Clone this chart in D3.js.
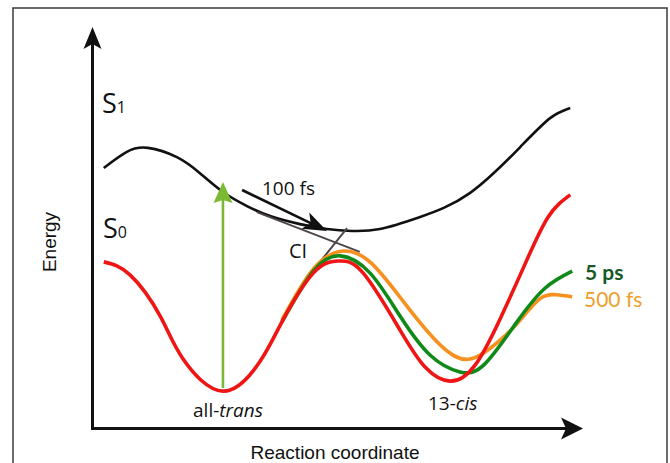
<!DOCTYPE html>
<html>
<head>
<meta charset="utf-8">
<script src="https://cdn.jsdelivr.net/npm/d3@7"></script>
<style>
  html, body { margin: 0; padding: 0; background: #fff; }
  svg { display: block; }
</style>
</head>
<body>
<svg id="chart" width="670" height="463"></svg>
<script>
// Potential energy surfaces along the isomerisation coordinate (arbitrary units 0–100)
const s1X    = [2.3, 7.0, 11.3, 17.2, 21.9, 26.6, 31.5, 36.2, 42.3, 47.8, 52.9, 58.6, 66.8, 77.0, 87.2, 93.3, 97.4];
const s1Y    = [64.9, 68.9, 69.9, 67.6, 63.6, 58.9, 55.4, 52.9, 50.9, 49.7, 49.2, 49.7, 52.7, 58.7, 70.1, 77.3, 79.8];

const s0X    = [2.3, 7.7, 13.8, 18.3, 26.6, 34.2, 38.6, 45.0, 50.1, 55.2, 62.7, 67.8, 72.9, 78.0, 83.1, 88.2, 92.9, 97.4];
const s0Y    = [41.5, 38.2, 28.0, 17.6, 9.3, 16.8, 26.5, 38.7, 41.7, 38.7, 24.5, 15.3, 11.8, 15.8, 27.3, 41.0, 52.7, 58.2];

const ps5X   = [38.6, 45.0, 50.5, 56.6, 62.7, 68.8, 74.9, 80.0, 86.5, 92.3, 97.8];
const ps5Y   = [26.5, 39.2, 43.0, 38.7, 28.0, 18.3, 14.1, 16.1, 26.5, 35.0, 39.2];

const fs500X = [38.6, 45.0, 51.1, 57.0, 63.9, 70.9, 77.0, 83.1, 87.2, 91.2, 94.5, 97.8];
const fs500Y = [27.0, 39.7, 44.2, 41.0, 30.8, 20.8, 17.3, 22.0, 27.0, 32.3, 33.3, 32.8];

// Excitation, relaxation path and conical-intersection guide lines
const excitation = [[26.6, 10.1], [26.6, 61.4]];
const relaxation = [[30.5, 59.4], [47.8, 49.2]];
const ciLines    = [[[33.5, 53.9], [54.5, 44.0]], [[45.4, 40.0], [51.9, 49.9]]];

const svg = d3.select("#chart");

const x = d3.scaleLinear().domain([0, 100]).range([92.5, 583]);
const y = d3.scaleLinear().domain([0, 100]).range([428.5, 27]);

const zip = (xs, ys) => xs.map((v, i) => [v, ys[i]]);
const line = d3.line().x(d => x(d[0])).y(d => y(d[1])).curve(d3.curveNatural);
const straight = d3.line().x(d => x(d[0])).y(d => y(d[1]));

// frame
svg.append("rect")
  .attr("x", 13).attr("y", 8).attr("width", 654).attr("height", 470)
  .attr("fill", "none").attr("stroke", "#3a3a3a").attr("stroke-width", 1.5);

// arrowhead with a notched back, pointing from `from` towards `tip`
function arrowHead(tip, from, len, half, notch) {
  const dx = tip[0] - from[0], dy = tip[1] - from[1];
  const L = Math.hypot(dx, dy), ux = dx / L, uy = dy / L;
  const px = -uy, py = ux;
  const bx = tip[0] - ux * len, by = tip[1] - uy * len;
  const nx = tip[0] - ux * (len - notch), ny = tip[1] - uy * (len - notch);
  return `M${tip[0]},${tip[1]}L${bx + px * half},${by + py * half}L${nx},${ny}L${bx - px * half},${by - py * half}Z`;
}

// axes
const origin = [x(0), y(0)];
const yAxisTop = [x(0), y(100)];
const xAxisEnd = [x(100), y(0)];
svg.append("line")
  .attr("x1", x(0)).attr("y1", y(0) + 1.5).attr("x2", x(0)).attr("y2", y(100) + 15)
  .attr("stroke", "#111").attr("stroke-width", 3);
svg.append("line")
  .attr("x1", x(0) - 1.5).attr("y1", y(0)).attr("x2", x(100) - 15).attr("y2", y(0))
  .attr("stroke", "#111").attr("stroke-width", 3);
svg.append("path").attr("d", arrowHead(yAxisTop, origin, 22, 9, 5)).attr("fill", "#111");
svg.append("path").attr("d", arrowHead(xAxisEnd, origin, 22, 11, 5)).attr("fill", "#111");

// axis titles
svg.append("text")
  .attr("transform", "translate(55.5,242) rotate(-90)")
  .attr("text-anchor", "middle")
  .attr("font-family", "'Liberation Sans', Arial, sans-serif")
  .attr("font-size", 19).attr("fill", "#111")
  .text("Energy");
svg.append("text")
  .attr("x", 335).attr("y", 459)
  .attr("text-anchor", "middle")
  .attr("font-family", "'Liberation Sans', Arial, sans-serif")
  .attr("font-size", 19).attr("fill", "#111")
  .text("Reaction coordinate");

// excited state S1
svg.append("path").attr("d", line(zip(s1X, s1Y)))
  .attr("fill", "none").attr("stroke", "#111").attr("stroke-width", 2.6);

// conical intersection guide lines
ciLines.forEach(seg => {
  svg.append("path").attr("d", straight(seg))
    .attr("fill", "none").attr("stroke", "#4f4648").attr("stroke-width", 2);
});

// ground-state surfaces at different delays
svg.append("path").attr("d", line(zip(fs500X, fs500Y)))
  .attr("fill", "none").attr("stroke", "#f7901e").attr("stroke-width", 3.6);
svg.append("path").attr("d", line(zip(ps5X, ps5Y)))
  .attr("fill", "none").attr("stroke", "#0f8a18").attr("stroke-width", 3.6);
svg.append("path").attr("d", line(zip(s0X, s0Y)))
  .attr("fill", "none").attr("stroke", "#f01515").attr("stroke-width", 3.6);

// vertical excitation arrow
const exB = [x(excitation[0][0]), y(excitation[0][1])];
const exT = [x(excitation[1][0]), y(excitation[1][1])];
svg.append("line")
  .attr("x1", exB[0]).attr("y1", exB[1]).attr("x2", exT[0]).attr("y2", exT[1] + 16)
  .attr("stroke", "#7cb933").attr("stroke-width", 2.6);
svg.append("path").attr("d", arrowHead(exT, exB, 21, 9.5, 3)).attr("fill", "#7cb933");

// 100 fs relaxation arrow
const rlA = [x(relaxation[0][0]), y(relaxation[0][1])];
const rlB = [x(relaxation[1][0]), y(relaxation[1][1])];
svg.append("line")
  .attr("x1", rlA[0]).attr("y1", rlA[1])
  .attr("x2", rlB[0] - (rlB[0] - rlA[0]) * 0.15).attr("y2", rlB[1] - (rlB[1] - rlA[1]) * 0.15)
  .attr("stroke", "#111").attr("stroke-width", 2.6);
svg.append("path").attr("d", arrowHead(rlB, rlA, 24, 9, 6)).attr("fill", "#111");

// state labels
const human = "'Open Sans', 'Noto Sans', sans-serif";
function stateLabel(px, py, sub) {
  const t = svg.append("text").attr("x", px).attr("y", py)
    .attr("font-family", human).attr("fill", "#111");
  t.append("tspan").attr("font-size", 27).text("S");
  t.append("tspan").attr("font-size", 16).text(sub);
}
stateLabel(102, 113, "1");
stateLabel(103, 238, "0");

svg.append("text").attr("x", 262).attr("y", 195)
  .attr("font-family", human).attr("font-size", 19).attr("fill", "#111").text("100 fs");
svg.append("text").attr("x", 289).attr("y", 258)
  .attr("font-family", human).attr("font-size", 20).attr("fill", "#111").text("CI");

const lblTrans = svg.append("text").attr("x", 228).attr("y", 417)
  .attr("text-anchor", "middle")
  .attr("font-family", human).attr("font-size", 19).attr("fill", "#111");
lblTrans.append("tspan").text("all-");
lblTrans.append("tspan").attr("font-style", "italic").text("trans");

const lblCis = svg.append("text").attr("x", 428).attr("y", 410)
  .attr("font-family", human).attr("font-size", 19).attr("fill", "#111");
lblCis.append("tspan").text("13-");
lblCis.append("tspan").attr("font-style", "italic").text("cis");

// delay labels
svg.append("text").attr("x", 585).attr("y", 280)
  .attr("font-family", "Lato, sans-serif").attr("font-weight", "bold")
  .attr("font-size", 21).attr("fill", "#175a26").text("5 ps");
svg.append("text").attr("x", 584).attr("y", 307)
  .attr("font-family", "Lato, sans-serif")
  .attr("font-size", 21).attr("fill", "#ec9f2a").text("500 fs");
</script>
</body>
</html>
